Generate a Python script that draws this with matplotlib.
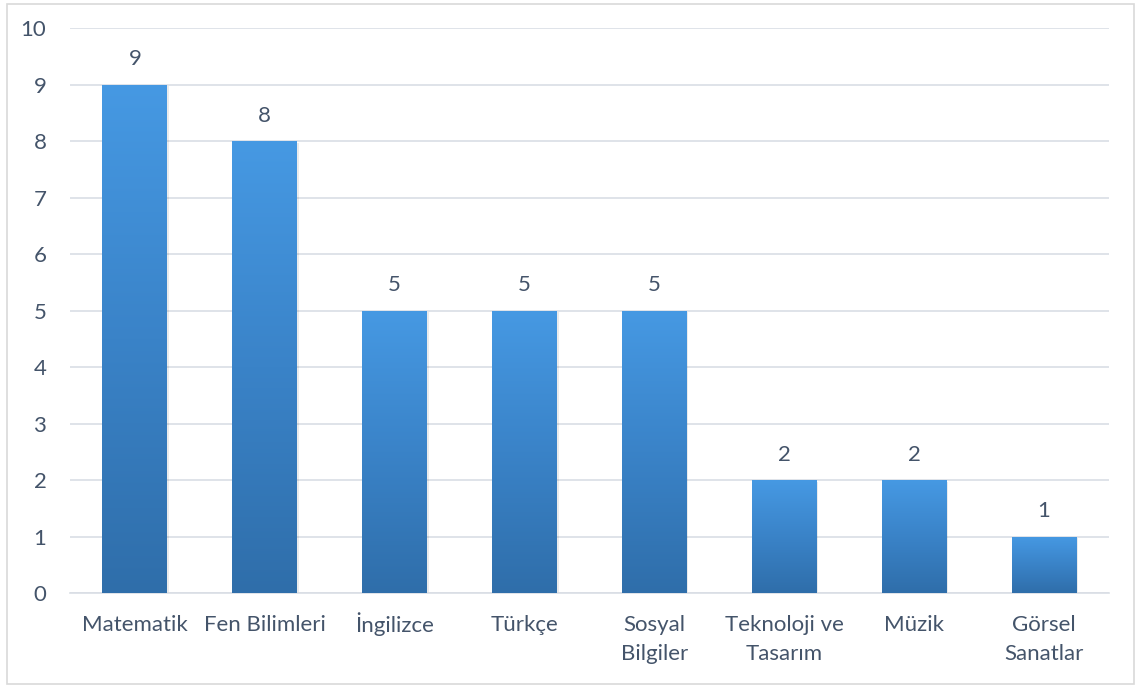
import numpy as np
import matplotlib.pyplot as plt
from matplotlib.colors import LinearSegmentedColormap
from matplotlib.patches import Rectangle
from matplotlib.transforms import ScaledTranslation

plt.rcParams['font.family'] = ['Lato', 'DejaVu Sans']

dersler = ['Matematik', 'Fen Bilimleri', 'İngilizce', 'Türkçe', 'Sosyal\nBilgiler',
           'Teknoloji ve\nTasarım', 'Müzik', 'Görsel\nSanatlar']
sayilar = [9, 8, 5, 5, 5, 2, 2, 1]

text_color = '#44546A'
grid_color = '#D9DEE5'
fs = 16

fig = plt.figure(figsize=(11.4, 6.88), dpi=100)
ax = fig.add_axes([0.0614, 0.138, 0.9114, 0.821])

# outer frame of the chart area
fig.patches.append(Rectangle((7 / 1140, 4 / 688), 1127 / 1140, 680 / 688,
                             transform=fig.transFigure, fill=False,
                             edgecolor='#D9D9D9', lw=1.2))

x = np.arange(len(dersler))
bars = ax.bar(x, sayilar, width=0.5, color='none', zorder=3)

cmap = LinearSegmentedColormap.from_list('mavi', ['#2F6EAA', '#3A83C8', '#4699E3'])
grad = np.linspace(0, 1, 256).reshape(-1, 1)
for b in bars:
    bx, by = b.get_x(), b.get_y()
    w, h = b.get_width(), b.get_height()
    # soft shadow behind the bar
    ax.add_patch(Rectangle((bx + 0.012, by), w, h - 0.03, color='#000000',
                           alpha=0.08, lw=0, zorder=2))
    im = ax.imshow(grad, cmap=cmap, origin='lower', aspect='auto',
                   extent=(bx, bx + w, by, by + h), zorder=3)
    im.set_clip_path(b)

for xi, v in zip(x, sayilar):
    ax.annotate(str(v), (xi, v), xytext=(0, 11), textcoords='offset points',
                ha='center', va='bottom', fontsize=fs, color=text_color)

ax.set_xlim(-0.5, len(dersler) - 0.5)
ax.set_ylim(0, 10)
ax.set_yticks(range(0, 11))
ax.set_xticks(x)
ax.set_xticklabels(dersler, fontsize=fs, color=text_color, va='top',
                   linespacing=1.55)
ax.tick_params(axis='y', length=0, pad=17, labelsize=fs, labelcolor=text_color)
ax.tick_params(axis='x', length=0, pad=16)

# the dot on İ makes that label taller, lift it back in line with the others
for lbl in ax.get_xticklabels():
    if lbl.get_text().startswith('İ'):
        lbl.set_transform(lbl.get_transform() +
                          ScaledTranslation(0, 2.5 / 72, fig.dpi_scale_trans))

ax.grid(axis='y', color=grid_color, lw=1.2, zorder=0)
ax.set_axisbelow(True)
for s in ['top', 'right', 'left']:
    ax.spines[s].set_visible(False)
ax.spines['bottom'].set_color(grid_color)
ax.spines['bottom'].set_linewidth(1.2)

fig.savefig('out.png', dpi=100)
